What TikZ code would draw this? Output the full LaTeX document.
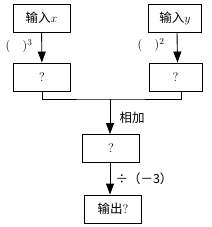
\documentclass[tikz,border=0pt]{standalone}
\usepackage{fontspec}
\newfontfamily\cjk{Noto Sans CJK SC}
\usetikzlibrary{positioning,arrows.meta}

\begin{document}
\begin{tikzpicture}[x=1pt,y=-1pt,
  flowbox/.style={draw,line width=0.9pt,minimum width=57pt,minimum height=28pt,inner sep=0pt,font=\fontsize{12.5}{14}\selectfont},
  flowarrow/.style={-{Triangle[length=11pt,width=8pt]},line width=0.9pt},
  flowline/.style={line width=0.9pt},
  lbl/.style={font=\fontsize{12.5}{14}\selectfont,inner sep=0pt}]
\useasboundingbox (0,0) rectangle (211,227);
% inputs
\node[flowbox] (inx) at (41.5,18) {\cjk 输入$x$};
\node[flowbox,minimum width=53pt] (iny) at (175,18) {\cjk 输入$y$};
\node[flowbox] (cubex) at (42,77) {?};
\node[flowbox,minimum width=53pt] (sqry) at (175.5,77) {?};
\node[flowbox] (sumxy) at (111,148.5) {?};
\node[flowbox] (outq) at (113,209) {{\cjk 输出}?};
% labels on the arrows
\node[lbl] (lcube) at (19,46) {$(\quad)^3$};
\node[lbl] (lsqr) at (151,45) {$(\quad)^2$};
\node[lbl] (ladd) at (132,118) {\cjk 相加};
\node[lbl] (ldiv) at (144,179) {\cjk ÷（－3）};
% connectors
\draw[flowarrow] (inx) -- (cubex);
\draw[flowarrow] ([xshift=2pt]iny.south) -- ([xshift=2pt]sqry.north);
\coordinate (join) at (110,99);
\draw[flowline] (cubex.south) |- (join) -| ([xshift=6pt]sqry.south);
\draw[flowarrow] (join) -- (join |- sumxy.north);
\draw[flowarrow] ([xshift=-1pt]sumxy.south) -- ([xshift=-1pt]sumxy.south |- outq.north);
\end{tikzpicture}
\end{document}
